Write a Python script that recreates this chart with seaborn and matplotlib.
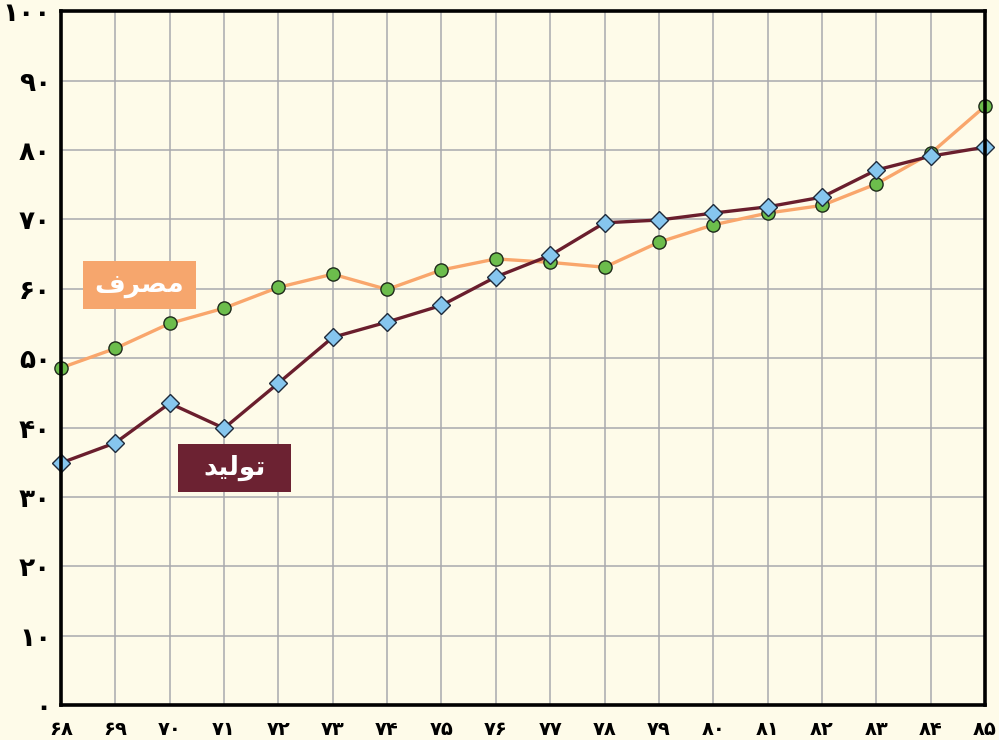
import pandas as pd
import matplotlib.pyplot as plt
import seaborn as sns
from matplotlib.patches import Rectangle

# داده‌ها (سال‌ها و مقادیر خوانده‌شده از نمودار)
years = list(range(68, 86))
produce = [34.9, 37.8, 43.5, 39.9, 46.4, 53.0, 55.2, 57.6, 61.7, 64.8,
           69.5, 69.9, 70.9, 71.8, 73.2, 77.1, 79.1, 80.4]
consume = [48.6, 51.4, 55.0, 57.2, 60.2, 62.1, 59.9, 62.7, 64.3, 63.8,
           63.1, 66.7, 69.2, 70.9, 72.0, 75.1, 79.5, 86.3]
yticks = list(range(0, 101, 10))
label_produce = "تولید"
label_consume = "مصرف"

FA_DIGITS = "۰۱۲۳۴۵۶۷۸۹"

# اشکال حروف: (منفرد، پایانی، آغازی، میانی) - حروف غیرچسبان فقط دو شکل دارند
FORMS = {
    "م": "\ufee1\ufee2\ufee3\ufee4", "ص": "\ufeb9\ufeba\ufebb\ufebc",
    "ف": "\ufed1\ufed2\ufed3\ufed4", "ت": "\ufe95\ufe96\ufe97\ufe98",
    "ل": "\ufedd\ufede\ufedf\ufee0", "ی": "\ufbfc\ufbfd\ufbfe\ufbff",
    "ر": "\ufead\ufeae", "و": "\ufeed\ufeee", "د": "\ufea9\ufeaa",
}


def fa_num(n):
    return "".join(FA_DIGITS[int(c)] for c in str(n))


def shape(word):
    """چسباندن ساده حروف فارسی برای matplotlib (بدون پشتیبانی از متن راست‌به‌چپ)."""
    out = []
    for i, ch in enumerate(word):
        prev_joins = i > 0 and len(FORMS[word[i - 1]]) == 4
        next_exists = i < len(word) - 1
        forms = FORMS[ch]
        if len(forms) == 2:
            out.append(forms[1] if prev_joins else forms[0])
        elif prev_joins and next_exists:
            out.append(forms[3])
        elif prev_joins:
            out.append(forms[1])
        elif next_exists:
            out.append(forms[2])
        else:
            out.append(forms[0])
    return "".join(reversed(out))


def label_box(ax, x, y, text, color):
    # جعبه برچسب: 2.08 واحد سال در 6.9 واحد عمودی
    w, h = 2.08, 6.9
    ax.add_patch(Rectangle((x - w / 2, y - h / 2), w, h, facecolor=color,
                           edgecolor="none", zorder=6))
    ax.text(x, y, shape(text), color="white", fontsize=19, fontweight="bold",
            ha="center", va="center", family="DejaVu Sans", zorder=7)


df = pd.DataFrame({"سال": years, "تولید": produce, "مصرف": consume})

bg = "#FEFBE9"
fig = plt.figure(figsize=(9.99, 7.40), dpi=100, facecolor=bg)
ax = fig.add_axes([0.061, 0.047, 0.925, 0.938])
ax.set_facecolor(bg)

sns.lineplot(data=df, x="سال", y="مصرف", ax=ax, color="#F9A66C", linewidth=2.4,
             marker="o", markersize=9.5, markerfacecolor="#6CBD4C",
             markeredgecolor="#1E2A1A", markeredgewidth=1.0, clip_on=False, zorder=3)
sns.lineplot(data=df, x="سال", y="تولید", ax=ax, color="#6A1E2D", linewidth=2.4,
             marker="D", markersize=9, markerfacecolor="#86C6EE",
             markeredgecolor="#1E2A3A", markeredgewidth=1.0, clip_on=False, zorder=4)

ax.set_xlim(68, 85)
ax.set_ylim(0, 100)
ax.set_xticks(years)
ax.set_xticklabels([fa_num(y) for y in years], fontsize=14, fontweight="bold")
ax.set_yticks(yticks)
ax.set_yticklabels([fa_num(v) for v in yticks], fontsize=19, fontweight="bold")
ax.tick_params(length=0, pad=7)
ax.tick_params(axis="x", pad=11)
ax.set_xlabel("")
ax.set_ylabel("")
ax.grid(True, color="#A9A9AD", linewidth=1.1)
ax.set_axisbelow(True)
for s in ax.spines.values():
    s.set_color("black")
    s.set_linewidth(2.6)
    s.set_zorder(5)

# برچسب سری‌ها
label_box(ax, 69.44, 60.5, label_consume, "#F6A66D")
label_box(ax, 71.19, 34.15, label_produce, "#6C2232")

plt.savefig("out.png", dpi=100, facecolor=bg)
